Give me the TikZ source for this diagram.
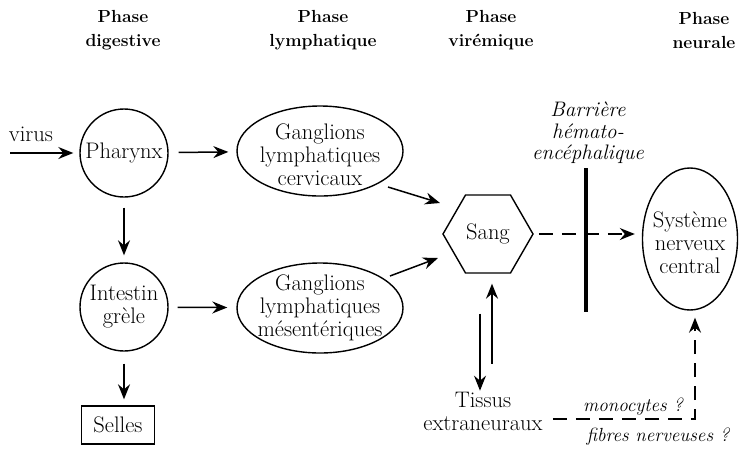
\documentclass[tikz,border=0pt]{standalone}
\usepackage{fontspec}
\usetikzlibrary{shapes.geometric,arrows.meta,calc}
\tikzset{
  arr/.style={line width=1.5pt, -{Stealth[length=15pt,width=12pt,inset=5pt]}},
  darr/.style={arr, dash pattern=on 14pt off 9pt},
  shp/.style={draw, line width=1.4pt, inner sep=0pt},
  txt/.style={font=\fontsize{22.5}{23}\selectfont, align=center, inner sep=2pt},
  itx/.style={font=\fontsize{19}{21.5}\selectfont\itshape, align=center, inner sep=2pt},
  btx/.style={font=\fontsize{21}{21.5}\selectfont\itshape, align=center, inner sep=2pt},
  hdr/.style={font=\fontsize{17.5}{24}\selectfont\bfseries, align=center, inner sep=0pt},
}
\begin{document}
\begin{tikzpicture}[x=1pt,y=-1pt]
\useasboundingbox (0,0) rectangle (740,451);

% headers
\node[hdr] (h1) at (123,30) {Phase\\digestive};
\node[hdr] (h2) at (323,30) {Phase\\lymphatique};
\node[hdr] (h3) at (491,30) {Phase\\virémique};
\node[hdr] (h4) at (704,30) {Phase\\neurale};

% shapes
\node[shp, circle, minimum size=88pt] (ph) at (124,153) {};
\node[txt] (pht) at (ph) {Pharynx};
\node[shp, circle, minimum size=88pt] (ig) at (124,307) {};
\node[txt] (igt) at (ig) {Intestin\\grèle};
\node[shp, rectangle, minimum width=73pt, minimum height=38pt] (se) at (118,425) {};
\node[txt] (set) at (se) {Selles};
\node[shp, ellipse, minimum width=166pt, minimum height=90pt] (gc) at (320,151) {};
\node[txt] (gct) at (320,155) {Ganglions\\lymphatiques\\cervicaux};
\node[shp, ellipse, minimum width=166pt, minimum height=90pt] (gm) at (320,308) {};
\node[txt] (gmt) at (320,308) {Ganglions\\lymphatiques\\mésentériques};
\node[shp, regular polygon, regular polygon sides=6, minimum size=90pt] (sa) at (488,234) {};
\node[txt] (sat) at (sa) {Sang};
\node[shp, ellipse, minimum width=95pt, minimum height=142pt] (sn) at (690,239) {};
\node[txt] (snt) at (690,243) {Système\\nerveux\\central};
\node[txt] (ti) at (483,411) {Tissus\\extraneuraux};
\node[txt] (vi) at (31,134) {virus};

% barrier
\coordinate (bt) at (586,168);
\coordinate (bb) at (586,312);
\draw[line width=4pt] (bt) -- (bb);
\node[btx] (bht) at (588,133) {Barrière\\hémato-\\encéphalique};

% connectors
\draw[arr, shorten >=6pt] ([xshift=-114pt]ph.center) -- (ph);
\draw[arr, shorten <=10pt, shorten >=8pt] (ph) -- (gc);
\draw[arr, shorten <=10pt, shorten >=7pt] (ph) -- (ig);
\draw[arr, shorten <=9pt, shorten >=9pt] (ig) -- (gm);
\draw[arr, shorten <=12pt, shorten >=6pt] (ig) -- (ig |- se.north);
\draw[arr] ([shift={(68,36)}]gc.center) -- ([shift={(-48,-31)}]sa.center);
\draw[arr] ([shift={(70,-32)}]gm.center) -- ([shift={(-50,24)}]sa.center);
\draw[darr] ([xshift=5pt]sa.east) -- ([xshift=-7pt]sa.east -| sn.west);
\draw[arr] ([shift={(-8,40)}]sa.south) -- ([shift={(-8,117)}]sa.south);
\draw[arr] ([shift={(4,90)}]sa.south) -- ([shift={(4,10)}]sa.south);
\draw[darr] ([shift={(8,8)}]ti.east) -| ([shift={(5,7)}]sn.south);

\node[itx] (mo) at (633,407) {monocytes ?};
\node[itx] (fn) at (658,437) {fibres nerveuses ?};
\end{tikzpicture}
\end{document}
